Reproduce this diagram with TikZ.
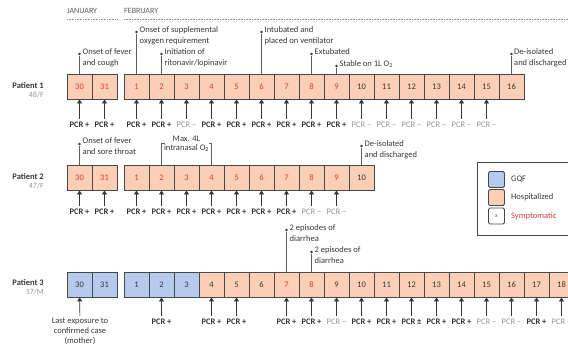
\documentclass[tikz,border=0pt]{standalone}
\usepackage{fontspec}
\setmainfont{Carlito}
\usetikzlibrary{arrows.meta,positioning}

\definecolor{hospfill}{RGB}{250,207,182}
\definecolor{gqffill}{RGB}{181,202,236}
\definecolor{boxline}{RGB}{72,72,72}
\definecolor{symred}{RGB}{226,58,62}
\definecolor{txtdark}{RGB}{55,55,55}
\definecolor{txtgray}{RGB}{150,150,150}

\tikzset{
	daybox/.style={draw=boxline, line width=0.9pt, minimum size=25pt, inner sep=0pt,
		font=\fontsize{8.5}{9}\selectfont, text=txtdark},
	hosp/.style={daybox, fill=hospfill},
	gqf/.style={daybox, fill=gqffill},
	sym/.style={text=symred},
	pcrpos/.style={font=\bfseries\fontsize{8.5}{9}\selectfont, text=txtdark, inner sep=1pt},
	pcrneg/.style={font=\fontsize{8.5}{9}\selectfont, text=txtgray, inner sep=1pt},
	pcrarrow/.style={draw=txtdark, line width=0.6pt, -{Triangle[width=5pt,length=4pt]},
		shorten <=2pt},
	note/.style={font=\fontsize{8.5}{11}\selectfont, text=txtdark, align=left,
		anchor=north west, inner sep=0pt},
	notedot/.style={circle, fill=txtdark, inner sep=0pt, minimum size=2.6pt},
	noteline/.style={draw=txtdark!80, line width=0.6pt},
	month/.style={font=\fontsize{8}{9}\selectfont, text=txtdark!80, anchor=west, inner sep=0pt},
	monthline/.style={draw=txtgray, line width=0.6pt, dash pattern=on 0.8pt off 0.8pt},
	patient/.style={font=\bfseries\fontsize{8.5}{9}\selectfont, text=txtdark, anchor=east, inner sep=0pt},
	age/.style={font=\fontsize{8}{9}\selectfont, text=txtgray, anchor=east, inner sep=0pt},
	swatch/.style={draw=boxline, line width=0.9pt, rounded corners=1.5pt, minimum size=16pt,
		inner sep=0pt},
	legtext/.style={font=\fontsize{8.5}{9}\selectfont, text=txtdark, inner sep=0pt},
}

\begin{document}
\begin{tikzpicture}[x=1pt,y=-1pt]
	\path[use as bounding box, clip] (0,0) rectangle (568,351);

	% Monate oben
	\node[month] (jan) at (67,11) {JANUARY};
	\node[month] (feb) at (124,11) {FEBRUARY};
	\draw[monthline] (67,19) -- (117,19);
	\draw[monthline] (124,19) -- (568,19);

	% Patient 1
	\node[patient] (pat1) at (44,86) {Patient 1};
	\node[age] (age1) at (44,95) {48/F};
	\node[hosp, sym] (p1j30) at (79.5,86.5) {30};
	\node[hosp, sym] (p1j31) at (104.5,86.5) {31};
	\foreach \d in {1,...,9} {
		\pgfmathsetmacro{\xx}{111.5+25*\d}
		\node[hosp, sym] (p1f\d) at (\xx,86.5) {\d};
	}
	\foreach \d in {10,...,16} {
		\pgfmathsetmacro{\xx}{111.5+25*\d}
		\node[hosp] (p1f\d) at (\xx,86.5) {\d};
	}
	% PCR Patient 1
	\foreach \n in {j30,j31,f1,f2,f4,f5,f6,f7,f8,f9} {
		\node[pcrpos] (p1pcr\n) at (p1\n.south |- 0,125) {PCR +};
		\draw[pcrarrow] (p1pcr\n) -- (p1\n);
	}
	\foreach \n in {f3,f10,f11,f12,f13,f14,f15} {
		\node[pcrneg] (p1pcr\n) at (p1\n.south |- 0,125) {PCR --};
		\draw[pcrarrow] (p1pcr\n) -- (p1\n);
	}
	% Ereignisse Patient 1
	\node[notedot] (p1dj30) at (79.5,54) {};
	\draw[noteline] (p1j30) -- (p1dj30);
	\node[note] (p1tj30) at (82.5,48.5) {Onset of fever\\and cough};
	\node[notedot] (p1df1) at (136.5,32) {};
	\draw[noteline] (p1f1) -- (p1df1);
	\node[note] (p1tf1) at (139.5,26.5) {Onset of supplemental\\oxygen requirement};
	\node[notedot] (p1df2) at (161.5,54) {};
	\draw[noteline] (p1f2) -- (p1df2);
	\node[note] (p1tf2) at (164.5,48.5) {Initiation of\\ritonavir/lopinavir};
	\node[notedot] (p1df6) at (261.5,32) {};
	\draw[noteline] (p1f6) -- (p1df6);
	\node[note] (p1tf6) at (264.5,26.5) {Intubated and\\placed on ventilator};
	\node[notedot] (p1df8) at (311.5,54) {};
	\draw[noteline] (p1f8) -- (p1df8);
	\node[note] (p1tf8) at (314.5,48.5) {Extubated};
	\node[notedot] (p1df9) at (336.5,66) {};
	\draw[noteline] (p1f9) -- (p1df9);
	\node[note] (p1tf9) at (339.5,60.5) {Stable on 1L O\textsubscript{2}};
	\node[notedot] (p1df16) at (511.5,54) {};
	\draw[noteline] (p1f16) -- (p1df16);
	\node[note] (p1tf16) at (514,48.5) {De-isolated\\and discharged};

	% Patient 2
	\node[patient] (pat2) at (44,177) {Patient 2};
	\node[age] (age2) at (44,186) {47/F};
	\node[hosp, sym] (p2j30) at (79.5,177.5) {30};
	\node[hosp, sym] (p2j31) at (104.5,177.5) {31};
	\foreach \d in {1,...,9} {
		\pgfmathsetmacro{\xx}{111.5+25*\d}
		\node[hosp, sym] (p2f\d) at (\xx,177.5) {\d};
	}
	\node[hosp] (p2f10) at (361.5,177.5) {10};
	% PCR Patient 2
	\foreach \n in {j30,j31,f1,f2,f3,f4,f5,f6,f7} {
		\node[pcrpos] (p2pcr\n) at (p2\n.south |- 0,212) {PCR +};
		\draw[pcrarrow] (p2pcr\n) -- (p2\n);
	}
	\foreach \n in {f8,f9} {
		\node[pcrneg] (p2pcr\n) at (p2\n.south |- 0,212) {PCR --};
		\draw[pcrarrow] (p2pcr\n) -- (p2\n);
	}
	% Ereignisse Patient 2
	\node[notedot] (p2dj30) at (79.5,144) {};
	\draw[noteline] (p2j30) -- (p2dj30);
	\node[note] (p2tj30) at (82.5,137) {Onset of fever\\and sore throat};
	\coordinate (p2bra) at (161.5,143);
	\coordinate (p2brb) at (211.5,143);
	\draw[noteline] (p2f2) -- (p2bra) -- ++(3,0);
	\draw[noteline] (p2f4) -- (p2brb) -- ++(-3,0);
	\node[note, align=center, anchor=north, font=\fontsize{8.5}{9}\selectfont] (p2tmax) at (186.5,136)
		{Max. 4L\\intranasal O\textsubscript{2}};
	\node[notedot] (p2df10) at (361.5,146) {};
	\draw[noteline] (p2f10) -- (p2df10);
	\node[note] (p2tf10) at (364.5,140.5) {De-isolated\\and discharged};

	% Patient 3
	\node[patient] (pat3) at (44,283) {Patient 3};
	\node[age] (age3) at (44,292) {17/M};
	\node[gqf] (p3j30) at (79.5,284.5) {30};
	\node[gqf] (p3j31) at (104.5,284.5) {31};
	\foreach \d in {1,...,3} {
		\pgfmathsetmacro{\xx}{111.5+25*\d}
		\node[gqf] (p3f\d) at (\xx,284.5) {\d};
	}
	\foreach \d in {4,...,19} {
		\pgfmathsetmacro{\xx}{111.5+25*\d}
		\node[hosp] (p3f\d) at (\xx,284.5) {\d};
	}
	\node[hosp, sym] at (p3f7) {7};
	\node[hosp, sym] at (p3f8) {8};
	% PCR Patient 3
	\foreach \n in {f2,f4,f5,f7,f8,f10,f11,f13,f14,f17} {
		\node[pcrpos] (p3pcr\n) at (p3\n.south |- 0,322) {PCR +};
		\draw[pcrarrow] (p3pcr\n) -- (p3\n);
	}
	\foreach \n in {f9,f15,f16,f18} {
		\node[pcrneg] (p3pcr\n) at (p3\n.south |- 0,322) {PCR --};
		\draw[pcrarrow] (p3pcr\n) -- (p3\n);
	}
	\node[pcrpos] (p3pcrf12) at (p3f12.south |- 0,322) {PCR \textpm};
	\draw[pcrarrow] (p3pcrf12) -- (p3f12);
	\node[note, align=center, anchor=north, font=\fontsize{8.5}{10}\selectfont] (p3expo) at (80,318)
		{Last exposure to\\confirmed case\\(mother)};
	\draw[pcrarrow] (p3expo) -- (p3j30);
	% Ereignisse Patient 3
	\node[notedot] (p3df7) at (286.5,230) {};
	\draw[noteline] (p3f7) -- (p3df7);
	\node[note] (p3tf7) at (289.5,224.5) {2 episodes of\\diarrhea};
	\node[notedot] (p3df8) at (311.5,252) {};
	\draw[noteline] (p3f8) -- (p3df8);
	\node[note] (p3tf8) at (314.5,246.5) {2 episodes of\\diarrhea};

	% Legende
	\draw[boxline, line width=0.9pt] (477,162) rectangle (640,235);
	\node[swatch, fill=gqffill] (lgqf) at (496.5,179.5) {};
	\node[legtext, right=6pt of lgqf] (tgqf) {GQF};
	\node[swatch, fill=hospfill] (lhosp) at (496.5,197.5) {};
	\node[legtext, right=6pt of lhosp] (thosp) {Hospitalized};
	\node[swatch, fill=white, text=symred, font=\fontsize{6}{6}\selectfont] (lsym) at (496.5,216) {x};
	\node[legtext, text=symred, right=6pt of lsym] (tsym) {Symptomatic};
\end{tikzpicture}
\end{document}
